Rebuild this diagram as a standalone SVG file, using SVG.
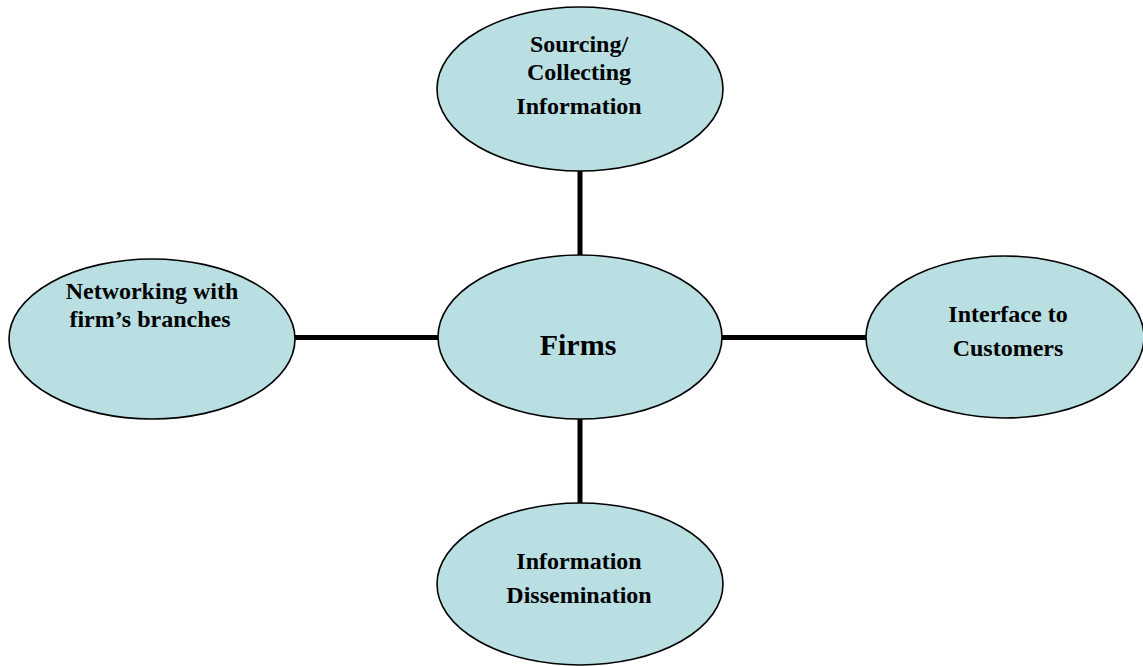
<svg xmlns="http://www.w3.org/2000/svg" width="1143" height="666" viewBox="0 0 1143 666">
<style>
.node ellipse{fill:#B9DFE3;stroke:#000;stroke-width:1.6}
.node text{font-family:"Liberation Serif","Times New Roman",serif;font-weight:bold;font-size:24px;fill:#000;text-anchor:middle}
.conn line{stroke:#000;stroke-width:5}
</style>
<rect width="1143" height="666" fill="#fff"/>
<g class="conn">
<line x1="580" y1="170" x2="580" y2="256"/>
<line x1="580" y1="418" x2="580" y2="504"/>
<line x1="295" y1="337.5" x2="440" y2="337.5"/>
<line x1="720" y1="337.5" x2="867" y2="337.5"/>
</g>
<g id="top" class="node">
<ellipse cx="580" cy="89" rx="143" ry="82"/>
<text x="579" y="52">Sourcing/</text>
<text x="579" y="80">Collecting</text>
<text x="579" y="114">Information</text>
</g>
<g id="center" class="node">
<ellipse cx="580" cy="337" rx="142" ry="82"/>
<text x="578" y="355" style="font-size:30px">Firms</text>
</g>
<g id="left" class="node">
<ellipse cx="152" cy="339" rx="143" ry="80"/>
<text x="152" y="299">Networking with</text>
<text x="150" y="327">firm’s branches</text>
</g>
<g id="right" class="node">
<ellipse cx="1005" cy="337" rx="139" ry="81"/>
<text x="1008" y="322">Interface to</text>
<text x="1008" y="356">Customers</text>
</g>
<g id="bottom" class="node">
<ellipse cx="580" cy="584" rx="143" ry="81"/>
<text x="579" y="569">Information</text>
<text x="579" y="603">Dissemination</text>
</g>
</svg>
